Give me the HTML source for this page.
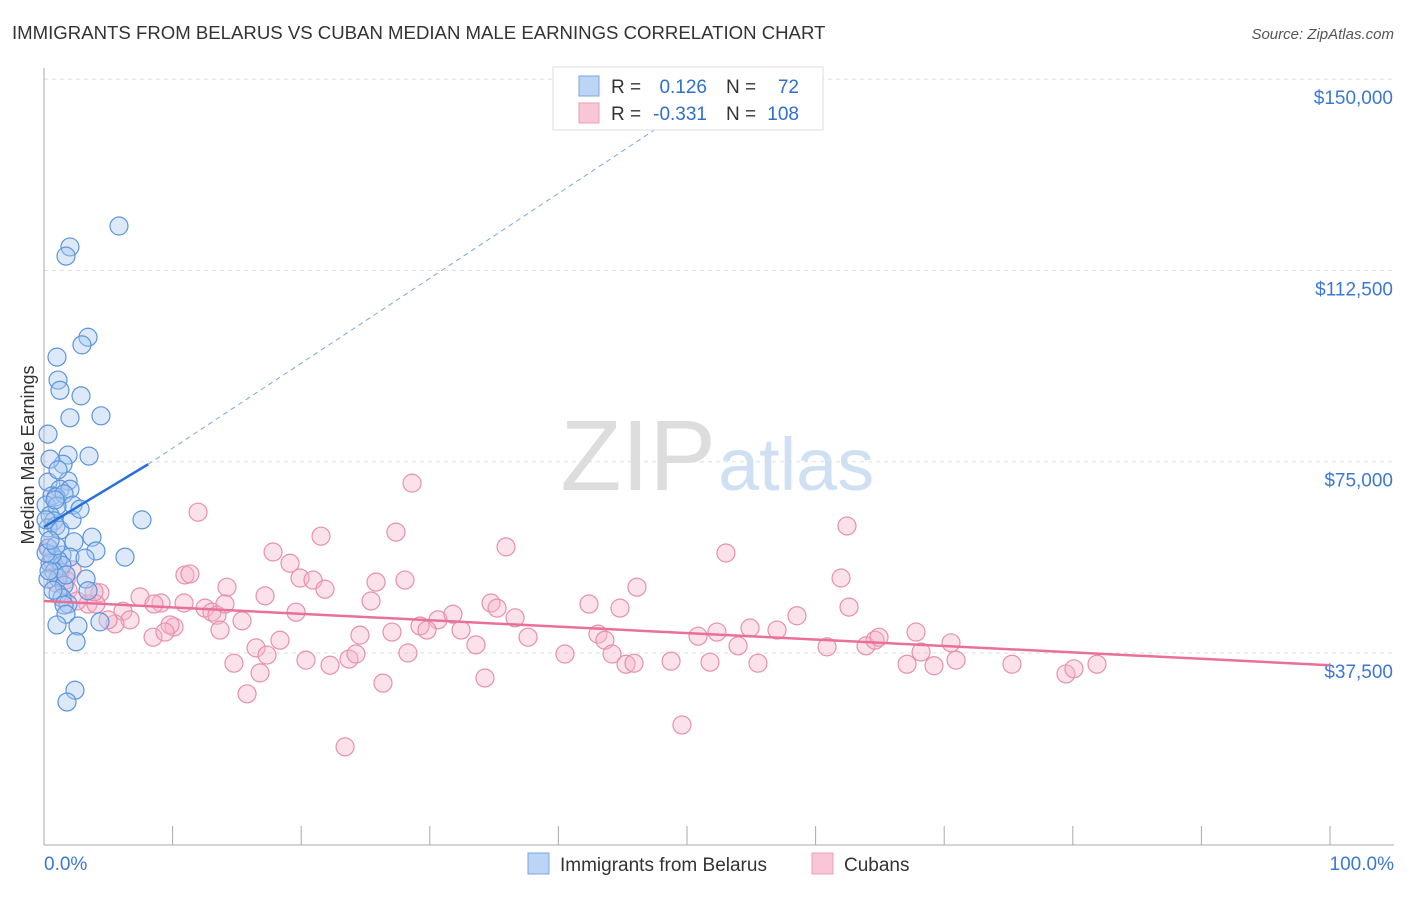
<!DOCTYPE html>
<html><head><meta charset="utf-8"><style>
body{margin:0;background:#fff;font-family:"Liberation Sans",sans-serif;}
svg text{font-family:"Liberation Sans",sans-serif;}
</style></head><body>
<svg id="c" width="1406" height="892" xmlns="http://www.w3.org/2000/svg">
<text x="12" y="39" font-size="18.6" fill="#333">IMMIGRANTS FROM BELARUS VS CUBAN MEDIAN MALE EARNINGS CORRELATION CHART</text>
<text x="1394" y="39" font-size="15" fill="#555" text-anchor="end" font-style="italic">Source: ZipAtlas.com</text>
<text x="716" y="490" font-size="100" fill="#ddd" text-anchor="end" font-family="Liberation Serif">ZIP</text>
<text x="718" y="490" font-size="74" fill="#cfe0f3">atlas</text>
<g id="grid"></g><g id="axes"></g><g id="pts"></g><g id="trend"></g>
<text transform="translate(34,455) rotate(-90)" font-size="18" fill="#333" text-anchor="middle">Median Male Earnings</text>
<g>
<rect x="553" y="67" width="270" height="63" fill="#fff" stroke="#ddd"/>
<rect x="579" y="76" width="20" height="20" fill="#bcd5f5" stroke="#7aa7e0"/>
<rect x="579" y="103" width="20" height="20" fill="#f8c6d6" stroke="#eba0b8"/>
<text x="611" y="93" font-size="19" fill="#333">R =</text>
<text x="707" y="93" font-size="19" fill="#2f6fce" text-anchor="end">0.126</text>
<text x="726" y="93" font-size="19" fill="#333">N =</text>
<text x="799" y="93" font-size="19" fill="#2f6fce" text-anchor="end">72</text>
<text x="611" y="120" font-size="19" fill="#333">R =</text>
<text x="707" y="120" font-size="19" fill="#2f6fce" text-anchor="end">-0.331</text>
<text x="726" y="120" font-size="19" fill="#333">N =</text>
<text x="799" y="120" font-size="19" fill="#2f6fce" text-anchor="end">108</text>
</g>
<g>
<rect x="528" y="853" width="21" height="21" fill="#bcd5f5" stroke="#7aa7e0"/>
<text x="560" y="871" font-size="19" fill="#333">Immigrants from Belarus</text>
<rect x="812" y="853" width="21" height="21" fill="#f8c6d6" stroke="#eba0b8"/>
<text x="844" y="871" font-size="19" fill="#333">Cubans</text>
</g>
</svg>
<script>
const yTicks=[37500,75000,112500,150000];
const yTickLabels=["$37,500","$75,000","$112,500","$150,000"];
const xTickLabels=["0.0%","100.0%"];
const blueX=[5.83,2.02,1.71,3.42,2.95,1.01,1.09,1.24,2.88,2.02,4.43,0.31,3.50,1.87,1.48,0.47,0.31,1.87,1.24,2.02,0.62,0.93,1.56,2.26,0.16,1.01,0.47,0.78,7.62,0.31,0.93,3.73,2.33,4.04,0.31,1.40,2.02,3.19,6.30,1.09,0.47,1.40,0.78,1.09,0.31,3.27,1.56,1.09,3.42,1.40,1.87,1.56,1.71,1.01,2.64,4.35,2.49,2.41,1.79,0.62,0.16,0.93,1.24,0.47,1.71,0.70,0.39,2.18,2.80,1.09,0.86,0.16];
const blueY=[121200,117100,115300,99400,97900,95500,91000,89000,87900,83600,84000,80400,76100,76300,74500,75500,71000,71200,69600,69600,68300,68100,68700,66500,66500,66300,64500,63400,63600,62000,62400,60200,59300,57500,58100,56700,56300,56100,56300,55700,55100,54700,53400,52200,52000,52000,50800,49100,49700,48300,47100,46900,45100,43000,42800,43600,39700,30200,27900,56700,57100,58500,61600,59600,52800,49800,53600,63600,65700,73400,67500,63600];
const pinkX=[11.98,28.62,21.54,27.37,35.93,62.44,53.03,17.81,19.13,19.91,20.92,21.85,25.82,28.07,10.96,11.35,14.23,46.11,61.98,7.47,9.10,6.14,10.89,12.52,13.06,13.45,15.40,6.69,5.52,8.48,10.11,9.80,13.69,19.60,25.43,30.64,31.80,34.76,35.23,36.63,42.38,44.79,43.08,43.62,44.17,37.64,32.43,27.06,29.24,29.78,24.57,33.59,40.51,45.26,45.88,48.76,50.86,52.33,53.97,54.90,57.00,58.55,51.79,55.52,60.89,63.92,64.62,64.93,62.60,67.81,70.53,68.20,70.92,67.11,69.21,75.27,79.47,80.09,81.88,49.61,23.41,15.79,26.36,34.29,16.80,14.77,20.37,22.24,23.72,24.26,28.30,16.49,17.34,18.35,9.41,4.35,3.42,4.04,1.87,2.18,1.24,0.62,0.93,1.71,2.57,4.98,0.39,3.89,8.55,14.07,17.19];
const pinkY=[65100,70800,60400,61200,58300,62400,57100,57300,55100,52200,51800,50000,51400,51800,52800,53000,50400,50400,52200,48500,47300,45700,47300,46300,45500,44900,43800,44000,43200,40600,42600,43000,42000,45500,47700,44000,45100,47300,46300,44400,47100,46300,41200,40000,37300,40600,42000,41600,42800,42000,41000,39100,37300,35300,35500,35900,40800,41600,38900,42400,42000,44800,35700,35500,38700,38900,40000,40600,46500,41600,39500,37700,36100,35300,35000,35300,33400,34400,35300,23400,19100,29500,31600,32600,33600,35500,36100,35100,36300,37300,37500,38500,37100,40000,41600,49300,47100,47100,49800,53800,53400,55700,51200,51800,47700,44000,58100,49500,47100,47100,48700];
const blueTrend=[[0,62200],[8.1,74500]];
const blueDash=[[8.1,74500],[51,145900]];
const pinkTrend=[[0,47700],[100,35100]];
const NS='http://www.w3.org/2000/svg';
const X=p=>44+p*12.86;
const Y=v=>653-(v-37500)*191.3/37500;
function mk(t,a,parent){const e=document.createElementNS(NS,t);for(const k in a)e.setAttribute(k,a[k]);document.getElementById(parent).appendChild(e);return e;}
yTicks.forEach((v,i)=>{
 const l=mk('line',{x1:44,x2:1394,y1:Y(v),y2:Y(v),stroke:'#ddd','stroke-dasharray':'4,4'},'grid');
 
 
 const t=mk('text',{x:1393,y:Y(v)+25,'font-size':19,fill:'#3b78d4','text-anchor':'end'},'grid');
 t.textContent=yTickLabels[i];
 
 
});
const ax=mk('line',{x1:44,x2:44,y1:68,y2:845,stroke:'#aaa'},'axes');


const bx=mk('line',{x1:44,x2:1394,y1:845,y2:845,stroke:'#aaa'},'axes');


for(let i=1;i<=10;i++){const t=mk('line',{x1:X(i*10),x2:X(i*10),y1:826,y2:845,stroke:'#aaa'},'axes');
 
 }
[[0,'start'],[100,'end']].forEach((d,i)=>{const t=mk('text',{x:i?1394:44,y:870,'font-size':19,fill:'#3b78d4','text-anchor':d[1]},'axes');t.textContent=xTickLabels[i];
 
 });
function pts(xs,ys,fill,stroke,name){xs.forEach((x,i)=>{const c=mk('circle',{cx:X(x),cy:Y(ys[i]),r:9,fill:fill,'fill-opacity':0.4,stroke:stroke,'stroke-width':1.2},'pts');
 
 });}
pts(pinkX,pinkY,'#f5b3c8','#e890ad','cuban-point');
pts(blueX,blueY,'#a9c8f0','#5b95dc','belarus-point');
function ln(a,col,w,dash,name){const l=mk('line',{x1:X(a[0][0]),y1:Y(a[0][1]),x2:X(a[1][0]),y2:Y(a[1][1]),stroke:col,'stroke-width':w},'trend');if(dash)l.setAttribute('stroke-dasharray',dash);
 
 }
ln(blueTrend,'#2a6fd6',2.5,null,'belarus-trend-line');
ln(blueDash,'#7aa7e0',1,'5,4','belarus-trend-extension');
ln(pinkTrend,'#e8709a',2.5,null,'cuban-trend-line');
</script>
</body></html>
